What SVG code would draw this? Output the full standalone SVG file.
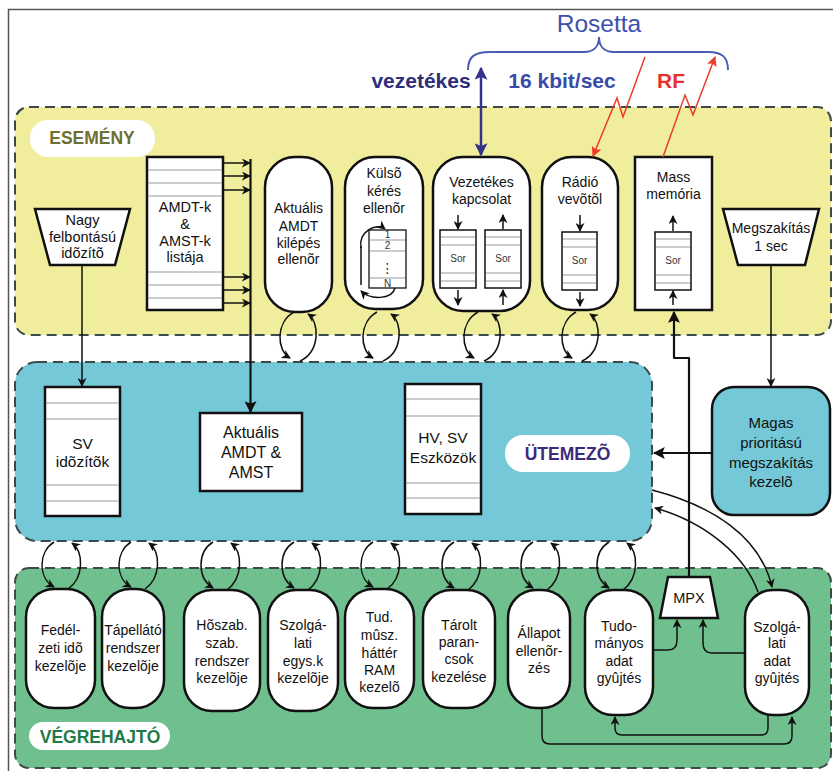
<svg xmlns="http://www.w3.org/2000/svg" width="833" height="771" viewBox="0 0 833 771">
<defs>
<style>
text{font-family:"Liberation Sans",Arial,sans-serif;text-anchor:middle;fill:#111}
.t14{font-size:14px}
.t145{font-size:14.5px}
.t155{font-size:15.5px}
.t16{font-size:16px}
.sor{font-size:10px;fill:#333}
.node{fill:#fff;stroke:#111;stroke-width:2.5}
.row{stroke:#999;stroke-width:1.2}
.panel{stroke:#3d4a4a;stroke-width:2;stroke-dasharray:10 6}
.pill{fill:#fff}
.lbl{font-weight:bold;font-size:17.5px}
.c{fill:none;stroke:#111;stroke-width:1.5}
.ca{fill:none;stroke:#111;stroke-width:1.5;marker-end:url(#ah)}
.cb{fill:none;stroke:#111;stroke-width:2.2;marker-end:url(#ahb)}
.red{fill:none;stroke:#ee3a2c;stroke-width:1.5;marker-end:url(#ahr)}
</style>
<marker id="ah" viewBox="0 0 10 10" refX="9" refY="5" markerWidth="9" markerHeight="9" markerUnits="userSpaceOnUse" orient="auto"><path d="M0,0 L10,5 L0,10 L3,5 z" fill="#111"/></marker>
<marker id="ahb" viewBox="0 0 10 10" refX="9" refY="5" markerWidth="12" markerHeight="12" markerUnits="userSpaceOnUse" orient="auto"><path d="M0,0 L10,5 L0,10 L2,5 z" fill="#111"/></marker>
<marker id="ahr" viewBox="0 0 10 10" refX="9" refY="5" markerWidth="10" markerHeight="10" markerUnits="userSpaceOnUse" orient="auto"><path d="M0,0 L10,5 L0,10 L2,5 z" fill="#ee3a2c"/></marker>
<marker id="ahn" viewBox="0 0 10 10" refX="9" refY="5" markerWidth="13" markerHeight="13" markerUnits="userSpaceOnUse" orient="auto"><path d="M0,0 L10,5 L0,10 L2,5 z" fill="#33338a"/></marker>
<marker id="ahns" viewBox="0 0 10 10" refX="9" refY="5" markerWidth="13" markerHeight="13" markerUnits="userSpaceOnUse" orient="auto-start-reverse"><path d="M0,0 L10,5 L0,10 L2,5 z" fill="#33338a"/></marker>
</defs>

<rect x="0" y="0" width="833" height="771" fill="#fff"/>
<rect x="8.5" y="9.5" width="840" height="780" fill="none" stroke="#555" stroke-width="1.5"/>

<!-- Panels -->
<g id="panel-esemeny">
<rect class="panel" x="15" y="107" width="816" height="228" rx="14" fill="#f0ed9c"/>
<rect class="pill" x="30" y="120" width="125" height="37" rx="18"/>
<text class="lbl" x="92" y="144" style="fill:#6f7030">ESEMÉNY</text>
</g>
<g id="panel-utemezo">
<rect class="panel" x="15" y="362" width="637" height="179" rx="22" fill="#74c8d7"/>
</g>
<g id="panel-vegrehajto">
<rect class="panel" x="15" y="568" width="816" height="200" rx="14" fill="#6fc08e"/>
<rect class="pill" x="29" y="722" width="141" height="28" rx="14"/>
<text class="lbl" x="100" y="743" style="fill:#1e7a48">VÉGREHAJTÓ</text>
</g>

<!-- Rosetta header -->
<g id="rosetta">
<text x="599" y="32" style="font-size:24.5px;fill:#3d50ad">Rosetta</text>
<path d="M468 70 C468 57 474 52 490 52 L584 52 C594 52 599 46 599 37 C599 46 604 52 614 52 L708 52 C722 52 728 57 728 70" fill="none" stroke="#4a5cb4" stroke-width="2"/>
<text x="421" y="88" style="font-size:21px;font-weight:bold;fill:#2e2e7a">vezetékes</text>
<text x="562" y="88" style="font-size:21px;font-weight:bold;fill:#3a4aa8">16 kbit/sec</text>
<text x="671" y="88" style="font-size:21px;font-weight:bold;fill:#e83030">RF</text>
</g>

<!-- ESEMÉNY nodes -->
<g id="nagy-idozito">
<polygon class="node" points="35,209 130,209 115,265 50,265"/>
<text class="t145" x="82.5" y="225">Nagy</text>
<text class="t145" x="82.5" y="242">felbontású</text>
<text class="t145" x="82.5" y="258">idõzítõ</text>
</g>
<g id="amdt-lista">
<rect class="node" x="147" y="157" width="76" height="153"/>
<line class="row" x1="148" y1="170" x2="222" y2="170"/>
<line class="row" x1="148" y1="183" x2="222" y2="183"/>
<line class="row" x1="148" y1="196" x2="222" y2="196"/>
<line class="row" x1="148" y1="272" x2="222" y2="272"/>
<line class="row" x1="148" y1="285" x2="222" y2="285"/>
<line class="row" x1="148" y1="298" x2="222" y2="298"/>
<text class="t145" x="185" y="212">AMDT-k</text>
<text class="t145" x="185" y="229">&amp;</text>
<text class="t145" x="185" y="246">AMST-k</text>
<text class="t145" x="185" y="262">listája</text>
</g>
<g id="aktualis-kilepes">
<rect class="node" x="265" y="157" width="67" height="155" rx="30"/>
<text class="t14" x="298.5" y="213">Aktuális</text>
<text class="t14" x="298.5" y="231">AMDT</text>
<text class="t14" x="298.5" y="248">kilépés</text>
<text class="t14" x="298.5" y="264">ellenõr</text>
</g>
<g id="kulso-keres">
<rect class="node" x="345" y="157" width="78" height="152" rx="30"/>
<text class="t14" x="384" y="178">Külsõ</text>
<text class="t14" x="384" y="196">kérés</text>
<text class="t14" x="384" y="213">ellenõr</text>
<rect x="369" y="230" width="37" height="58" fill="#fff" stroke="#111" stroke-width="1.3"/>
<line class="row" x1="370" y1="240" x2="405" y2="240"/>
<line class="row" x1="370" y1="251" x2="405" y2="251"/>
<line class="row" x1="370" y1="278" x2="405" y2="278"/>
<text class="sor" x="387.5" y="238">1</text>
<text class="sor" x="387.5" y="249">2</text>
<text x="387.5" y="273" style="font-family:'DejaVu Sans',sans-serif;font-size:14px;fill:#333">⋮</text>
<text class="sor" x="387.5" y="287">N</text>
<path class="ca" d="M361 248 C358 232 376 222 385 229"/>
<line class="c" x1="361" y1="246" x2="361" y2="285"/>
<path class="ca" d="M395 288 C392 300 370 300 361 291"/>
</g>
<g id="vezetekes-kapcsolat">
<rect class="node" x="433" y="157" width="97" height="154" rx="30"/>
<text class="t14" x="481.5" y="187">Vezetékes</text>
<text class="t14" x="481.5" y="204">kapcsolat</text>
<rect x="440" y="230" width="36" height="58" fill="#fff" stroke="#111" stroke-width="1.5"/>
<line class="row" x1="441" y1="237" x2="475" y2="237"/>
<line class="row" x1="441" y1="245" x2="475" y2="245"/>
<line class="row" x1="441" y1="273" x2="475" y2="273"/>
<line class="row" x1="441" y1="281" x2="475" y2="281"/>
<text class="sor" x="458" y="262">Sor</text>
<rect x="485" y="230" width="36" height="58" fill="#fff" stroke="#111" stroke-width="1.5"/>
<line class="row" x1="486" y1="237" x2="520" y2="237"/>
<line class="row" x1="486" y1="245" x2="520" y2="245"/>
<line class="row" x1="486" y1="273" x2="520" y2="273"/>
<line class="row" x1="486" y1="281" x2="520" y2="281"/>
<text class="sor" x="503" y="262">Sor</text>
<line class="ca" x1="458" y1="215" x2="458" y2="229"/>
<line class="ca" x1="458" y1="290" x2="458" y2="305"/>
<line class="ca" x1="503" y1="229" x2="503" y2="215"/>
<line class="ca" x1="503" y1="305" x2="503" y2="290"/>
</g>
<g id="radio-vevo">
<rect class="node" x="542" y="157" width="76" height="153" rx="30"/>
<text class="t14" x="580" y="187">Rádió</text>
<text class="t14" x="580" y="204">vevõtõl</text>
<rect x="562" y="232" width="35" height="58" fill="#fff" stroke="#111" stroke-width="1.5"/>
<line class="row" x1="563" y1="239" x2="596" y2="239"/>
<line class="row" x1="563" y1="247" x2="596" y2="247"/>
<line class="row" x1="563" y1="275" x2="596" y2="275"/>
<line class="row" x1="563" y1="283" x2="596" y2="283"/>
<text class="sor" x="579.5" y="264">Sor</text>
<line class="ca" x1="580" y1="215" x2="580" y2="231"/>
<line class="ca" x1="580" y1="292" x2="580" y2="306"/>
</g>
<g id="mass-memoria">
<rect class="node" x="635" y="157" width="77" height="153"/>
<text class="t14" x="673.5" y="182">Mass</text>
<text class="t14" x="673.5" y="199">memória</text>
<rect x="655" y="232" width="36" height="58" fill="#fff" stroke="#111" stroke-width="1.5"/>
<line class="row" x1="656" y1="239" x2="690" y2="239"/>
<line class="row" x1="656" y1="247" x2="690" y2="247"/>
<line class="row" x1="656" y1="275" x2="690" y2="275"/>
<line class="row" x1="656" y1="283" x2="690" y2="283"/>
<text class="sor" x="673" y="264">Sor</text>
<line class="ca" x1="673" y1="231" x2="673" y2="216"/>
<line class="ca" x1="673" y1="305" x2="673" y2="291"/>
</g>
<g id="megszakitas-1sec">
<polygon class="node" points="723,209 819,209 805,265 738,265"/>
<text class="t14" x="771" y="233">Megszakítás</text>
<text class="t14" x="771" y="251">1 sec</text>
</g>

<!-- ÜTEMEZŐ nodes -->
<g id="sv-idozitok">
<rect class="node" x="45" y="387" width="75" height="129"/>
<line class="row" x1="46" y1="403" x2="119" y2="403"/>
<line class="row" x1="46" y1="419" x2="119" y2="419"/>
<line class="row" x1="46" y1="485" x2="119" y2="485"/>
<line class="row" x1="46" y1="501" x2="119" y2="501"/>
<text class="t155" x="82.5" y="449">SV</text>
<text class="t155" x="82.5" y="467">idõzítõk</text>
</g>
<g id="aktualis-amdt-amst">
<rect class="node" x="200" y="413" width="102" height="78"/>
<text class="t16" x="251" y="438">Aktuális</text>
<text class="t16" x="251" y="458">AMDT &amp;</text>
<text class="t16" x="251" y="478">AMST</text>
</g>
<g id="hv-sv-eszkozok">
<rect class="node" x="405" y="384" width="76" height="130"/>
<line class="row" x1="406" y1="399" x2="480" y2="399"/>
<line class="row" x1="406" y1="416" x2="480" y2="416"/>
<line class="row" x1="406" y1="483" x2="480" y2="483"/>
<line class="row" x1="406" y1="498" x2="480" y2="498"/>
<text class="t155" x="443" y="443">HV, SV</text>
<text class="t155" x="443" y="463">Eszközök</text>
</g>
<g id="utemezo-label">
<rect class="pill" x="505" y="435" width="125" height="37" rx="18"/>
<text class="lbl" x="567.5" y="460" style="fill:#3c2a7a">ÜTEMEZÕ</text>
</g>
<g id="magas-prioritas">
<rect x="712" y="387" width="118" height="128" rx="22" fill="#74c8d7" stroke="#111" stroke-width="2.5"/>
<text x="771" y="428" style="font-size:15px">Magas</text>
<text x="771" y="448" style="font-size:15px">prioritású</text>
<text x="771" y="468" style="font-size:15px">megszakítás</text>
<text x="771" y="487" style="font-size:15px">kezelõ</text>
</g>

<!-- VÉGREHAJTÓ nodes -->
<g id="fedelzeti-ido">
<rect class="node" x="26" y="589" width="69" height="119" rx="28"/>
<text class="t14" x="60.5" y="635">Fedél-</text>
<text class="t14" x="60.5" y="653">zeti idõ</text>
<text class="t14" x="60.5" y="671">kezelõje</text>
</g>
<g id="tapellato">
<rect class="node" x="102" y="589" width="62" height="119" rx="28"/>
<text class="t14" x="133" y="635">Tápellátó</text>
<text class="t14" x="133" y="653">rendszer</text>
<text class="t14" x="133" y="671">kezelõje</text>
</g>
<g id="hoszab">
<rect class="node" x="184" y="590" width="76" height="121" rx="28"/>
<text class="t14" x="222" y="630">Hõszab.</text>
<text class="t14" x="222" y="648">szab.</text>
<text class="t14" x="222" y="666">rendszer</text>
<text class="t14" x="222" y="683">kezelõje</text>
</g>
<g id="szolgalati-egys">
<rect class="node" x="268" y="590" width="70" height="121" rx="28"/>
<text class="t14" x="303" y="630">Szolgá-</text>
<text class="t14" x="303" y="648">lati</text>
<text class="t14" x="303" y="666">egys.k</text>
<text class="t14" x="303" y="683">kezelõje</text>
</g>
<g id="tud-musz">
<rect class="node" x="345" y="589" width="69" height="119" rx="28"/>
<text class="t14" x="379.5" y="622">Tud.</text>
<text class="t14" x="379.5" y="640">mûsz.</text>
<text class="t14" x="379.5" y="658">háttér</text>
<text class="t14" x="379.5" y="675">RAM</text>
<text class="t14" x="379.5" y="692">kezelõ</text>
</g>
<g id="tarolt-parancsok">
<rect class="node" x="423" y="590" width="72" height="118" rx="28"/>
<text class="t14" x="459" y="630">Tárolt</text>
<text class="t14" x="459" y="647">paran-</text>
<text class="t14" x="459" y="664">csok</text>
<text class="t14" x="459" y="682">kezelése</text>
</g>
<g id="allapot">
<rect class="node" x="508" y="590" width="62" height="118" rx="28"/>
<text class="t14" x="539" y="638">Állapot</text>
<text class="t14" x="539" y="656">ellenõr-</text>
<text class="t14" x="539" y="673">zés</text>
</g>
<g id="tudomanyos-adat">
<rect class="node" x="585" y="590" width="68" height="125" rx="28"/>
<text class="t14" x="619" y="631">Tudo-</text>
<text class="t14" x="619" y="648">mányos</text>
<text class="t14" x="619" y="666">adat</text>
<text class="t14" x="619" y="683">gyûjtés</text>
</g>
<g id="mpx">
<polygon class="node" points="668,577 710,577 718,618 660,618"/>
<text x="689" y="603" style="font-size:14.5px">MPX</text>
</g>
<g id="szolgalati-adat">
<rect class="node" x="745" y="590" width="64" height="125" rx="28"/>
<text class="t14" x="777" y="632">Szolgá-</text>
<text class="t14" x="777" y="648">lati</text>
<text class="t14" x="777" y="666">adat</text>
<text class="t14" x="777" y="683">gyûjtés</text>
</g>

<!-- Connectors -->
<g id="connectors">
<line x1="481" y1="68" x2="481" y2="155" stroke="#33338a" stroke-width="2.5" marker-start="url(#ahns)" marker-end="url(#ahn)"/>
<path class="red" d="M645 57 L623 117 L617 98 L593 156"/>
<path class="red" d="M663 157 L685 95 L693 115 L715 57"/>

<line class="ca" x1="223" y1="163" x2="250" y2="163"/>
<line class="ca" x1="223" y1="176" x2="250" y2="176"/>
<line class="ca" x1="223" y1="190" x2="250" y2="190"/>
<line class="ca" x1="223" y1="277" x2="250" y2="277"/>
<line class="ca" x1="223" y1="290" x2="250" y2="290"/>
<line class="ca" x1="223" y1="303" x2="250" y2="303"/>
<line class="cb" x1="250.5" y1="159" x2="250.5" y2="412"/>

<line class="ca" x1="82" y1="265" x2="82" y2="386"/>
<line class="ca" x1="771" y1="265" x2="771" y2="386"/>
<line class="cb" x1="712" y1="453" x2="654" y2="453"/>

<path class="cb" d="M689 577 L689 358 L674 358 L674 312" stroke-linejoin="round"/>

<path class="ca" d="M294 312 C276 322 276 350 290 358"/>
<path class="ca" d="M300 361 C320 352 320 322 308 314"/>
<path class="ca" d="M377 312 C359 322 359 350 373 358"/>
<path class="ca" d="M383 361 C403 352 403 322 391 314"/>
<path class="ca" d="M478 312 C460 322 460 350 474 358"/>
<path class="ca" d="M484 361 C504 352 504 322 492 314"/>
<path class="ca" d="M576 312 C558 322 558 350 572 358"/>
<path class="ca" d="M582 361 C602 352 602 322 590 314"/>

<path class="ca" d="M54 542 C38 552 38 578 54 587"/>
<path class="ca" d="M68 589 C84 578 84 552 72 543"/>
<path class="ca" d="M131 542 C115 552 115 578 131 587"/>
<path class="ca" d="M145 589 C161 578 161 552 149 543"/>
<path class="ca" d="M213 542 C197 552 197 578 213 588"/>
<path class="ca" d="M227 590 C243 578 243 552 231 543"/>
<path class="ca" d="M294 542 C278 552 278 578 294 588"/>
<path class="ca" d="M308 590 C324 578 324 552 312 543"/>
<path class="ca" d="M373 542 C357 552 357 578 373 587"/>
<path class="ca" d="M387 589 C403 578 403 552 391 543"/>
<path class="ca" d="M454 542 C438 552 438 578 454 588"/>
<path class="ca" d="M468 590 C484 578 484 552 472 543"/>
<path class="ca" d="M533 542 C517 552 517 578 533 588"/>
<path class="ca" d="M547 590 C563 578 563 552 551 543"/>
<path class="ca" d="M609 542 C593 552 593 578 609 588"/>
<path class="ca" d="M623 590 C639 578 639 552 627 543"/>

<path class="ca" d="M652 490 C710 505 760 535 772 587"/>
<path class="ca" d="M758 592 C745 555 705 522 655 508"/>

<path class="ca" d="M653 650 L668 650 Q677 650 677 640 L677 620"/>
<path class="ca" d="M745 653 L712 653 Q703 653 703 643 L703 620"/>

<path class="ca" d="M542 708 L542 736 Q542 744 550 744 L784 744 Q792 744 792 736 L792 717"/>
<path class="ca" d="M768 715 L768 728 Q768 735 761 735 L622 735 Q615 735 615 728 L615 717"/>
</g>
</svg>
